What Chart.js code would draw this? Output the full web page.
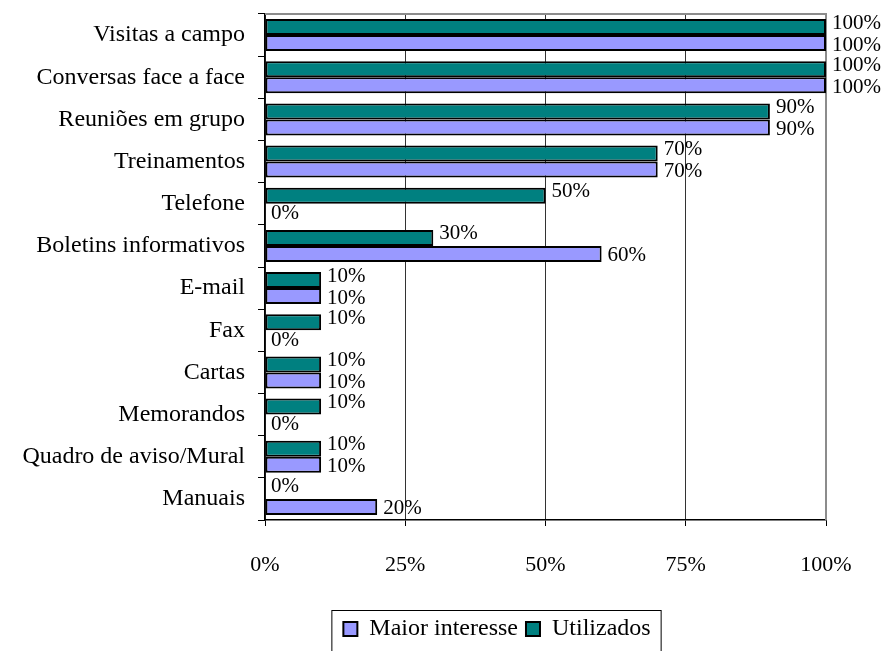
<!DOCTYPE html>
<html>
<head>
<meta charset="utf-8">
<script src="https://cdn.jsdelivr.net/npm/chart.js@4/dist/chart.umd.min.js"></script>
<style>
    html, body { margin: 0; padding: 0; background: #fff; }
    #holder { width: 888px; height: 651px; }
</style>
</head>
<body>
<div id="holder"><canvas id="chart-area-1" width="888" height="651"></canvas></div>
<script>
// Categories, top to bottom
var categories = [
    "Visitas a campo", "Conversas face a face", "Reuniões em grupo", "Treinamentos",
    "Telefone", "Boletins informativos", "E-mail", "Fax", "Cartas", "Memorandos",
    "Quadro de aviso/Mural", "Manuais"
];
var utilizados     = [100, 100, 90, 70, 50, 30, 10, 10, 10, 10, 10, 0];
var maiorInteresse = [100, 100, 90, 70, 0, 60, 10, 0, 10, 0, 10, 20];
var xTicks = [0, 25, 50, 75, 100];

var serif = "'Liberation Serif', 'Times New Roman', serif";

/******************************************************************************
* Writes the value next to the end of each bar.
******************************************************************************/
var barLabels = {
    id: 'barLabels',
    afterDatasetsDraw: function(chart) {
        var ctx = chart.ctx;
        ctx.save();
        ctx.font = "21px " + serif;
        ctx.fillStyle = "#000";
        ctx.textAlign = "left";
        ctx.textBaseline = "middle";
        chart.data.datasets.forEach(function(ds, i) {
            var meta = chart.getDatasetMeta(i);
            meta.data.forEach(function(bar, j) {
                var shift = (i == 0) ? -4 : 2;
                ctx.fillText(ds.data[j] + "%", bar.x + 6, bar.y + shift);
            });
        });
        ctx.restore();
    }
};

/******************************************************************************
* Gray top / right frame of the plot, legend moved under the plot centre,
* and the box around the legend.
******************************************************************************/
var frame = {
    id: 'frame',
    beforeDraw: function(chart) {
        var lg = chart.legend;
        if (lg && !lg._moved) {
            lg._moved = true;
            lg.left += 84;
            lg.right += 84;
            if (lg.adjustHitBoxes) lg.adjustHitBoxes();
        }
    },
    beforeDatasetsDraw: function(chart) {
        var a = chart.chartArea;
        var ctx = chart.ctx;
        ctx.save();
        ctx.strokeStyle = "#8c8c8c";
        ctx.lineWidth = 2;
        ctx.beginPath();
        ctx.moveTo(a.left, a.top);
        ctx.lineTo(a.right, a.top);
        ctx.lineTo(a.right, a.bottom);
        ctx.stroke();
        ctx.restore();
    },
    afterDraw: function(chart) {
        var boxes = chart.legend.legendHitBoxes;
        if (!boxes || !boxes.length) return;
        var left = Math.min.apply(null, boxes.map(function(b) { return b.left; }));
        var right = Math.max.apply(null, boxes.map(function(b) { return b.left + b.width; }));
        var ctx = chart.ctx;
        ctx.save();
        ctx.strokeStyle = "#000";
        ctx.lineWidth = 1;
        ctx.strokeRect(left - 11.5, chart.legend.top + 1.5, right - left + 22, chart.legend.height + 2);
        ctx.restore();
    }
};

var configOne = {
    type: 'bar',
    data: {
        labels: categories,
        datasets: [{
            label: 'Utilizados',
            data: utilizados,
            backgroundColor: '#008080',
            borderColor: '#000',
            borderWidth: 2,
            borderSkipped: false
        }, {
            label: 'Maior interesse',
            data: maiorInteresse,
            backgroundColor: '#9999ff',
            borderColor: '#000',
            borderWidth: 2,
            borderSkipped: false
        }]
    },
    options: {
        responsive: false,
        animation: false,
        indexAxis: 'y',
        datasets: { bar: { categoryPercentage: 0.76, barPercentage: 1 } },
        layout: { padding: { top: 14, right: 62, left: 0, bottom: 0 } },
        scales: {
            x: {
                min: 0,
                max: 100,
                afterBuildTicks: function(scale) {
                    scale.ticks = xTicks.map(function(v) { return { value: v }; });
                },
                afterFit: function(scale) { scale.height = 89; },
                border: { display: true, color: '#000', width: 1.5 },
                grid: {
                    color: function(c) {
                        if (c.tick && c.tick.value == 100) return '#8c8c8c';
                        return '#333';
                    },
                    tickColor: '#000',
                    tickLength: 6
                },
                ticks: {
                    padding: 26,
                    color: '#000',
                    font: { family: serif, size: 22 },
                    callback: function(v) { return v + "%"; }
                }
            },
            y: {
                afterFit: function(scale) {
                    scale.width = 265;
                    scale.paddingTop = 0;
                    scale.paddingBottom = 0;
                },
                border: { display: true, color: '#000', width: 1.5 },
                grid: {
                    offset: true,
                    drawOnChartArea: false,
                    tickColor: '#000',
                    tickLength: 7
                },
                ticks: {
                    padding: 13,
                    color: '#000',
                    font: { family: serif, size: 24 }
                }
            }
        },
        plugins: {
            legend: {
                position: 'bottom',
                labels: {
                    color: '#000',
                    font: { family: serif, size: 24 },
                    boxWidth: 14,
                    boxHeight: 14,
                    padding: 8,
                    sort: function(a, b) { return b.datasetIndex - a.datasetIndex; }
                }
            },
            tooltip: { enabled: false }
        }
    },
    plugins: [barLabels, frame]
};

var ctx = document.getElementById("chart-area-1").getContext("2d");
window.myBar = new Chart(ctx, configOne);
</script>
</body>
</html>
